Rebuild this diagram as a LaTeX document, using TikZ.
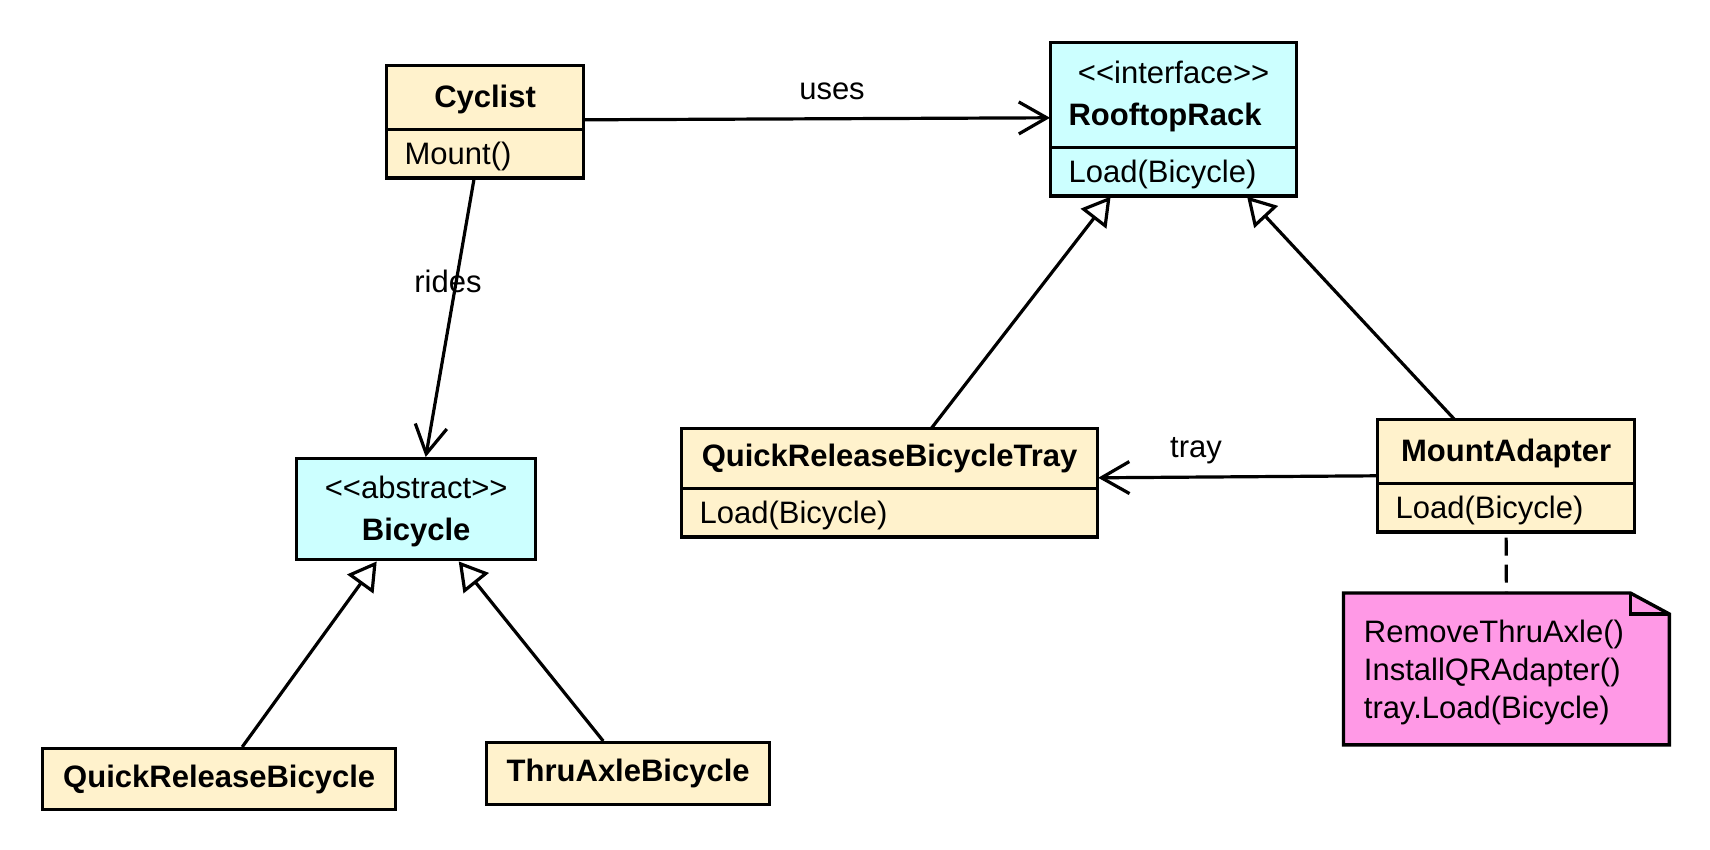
\documentclass[tikz,border=0pt]{standalone}
\usepackage{fontspec}
\setmainfont{Liberation Sans}
\usepackage{tikz}
\usetikzlibrary{arrows.meta}
\usetikzlibrary{calc}
\usetikzlibrary{shapes}
\usetikzlibrary{backgrounds}

\definecolor{classfill}{HTML}{FFF2CC}
\definecolor{ifacefill}{HTML}{CCFFFF}
\definecolor{notefill}{HTML}{FF99E6}

\newcommand{\clsname}[2][31.5pt]{\hspace*{\fill}\rule[-11pt]{0pt}{#1}\textbf{#2}\hspace*{\fill}\null}
\newcommand{\clsop}[1]{\rule[-6.5pt]{0pt}{23.5pt}#1}
\newcommand{\stereo}[1]{\rule{0pt}{20pt}\textless\kern0pt\textless#1\textgreater\kern0pt\textgreater}

\begin{document}
\begin{tikzpicture}[x=0.5pt, y=-0.5pt,
        class_style/.style={rectangle split, rectangle split parts=2, draw=black, line width=0.6pt,
            postaction={draw=black, line width=1.7pt}, fill=classfill, inner xsep=9pt, inner ysep=0pt,
            anchor=north west, align=left, font=\fontsize{15.5}{21}\selectfont},
        iface_style/.style={class_style, fill=ifacefill},
        leaf_style/.style={rectangle, draw=black, line width=1.7pt, fill=classfill, inner sep=0pt,
            anchor=north west, align=center, font=\fontsize{15.5}{21}\selectfont\bfseries},
        note_style/.style={rectangle, inner xsep=10pt, inner ysep=0pt, anchor=north west, align=left,
            text width=142.5pt, font=\fontsize{15.5}{19}\selectfont},
        label_style/.style={anchor=base, font=\fontsize{15.5}{19}\selectfont},
        edge_style/.style={draw=black, line width=1.6pt, -{Straight Barb[length=14pt,width=16pt]}},
        gen_style/.style={draw=black, line width=1.6pt, -{Triangle[open,fill=white,length=14pt,width=16pt]}},
        dash_style/.style={draw=black, line width=1.6pt, dash pattern=on 9pt off 4.5pt, dash phase=11pt}]

        \useasboundingbox (0,0) rectangle (1710,850);

        \node [class_style,text width=80.5pt](cyclist) at (386,65) {\clsname{Cyclist}
            \nodepart{two}\clsop{Mount()}};

        \node [iface_style,text width=105pt](rack) at (1050,42) {\centering\stereo{interface}\\
            \rule[-11pt]{0pt}{11pt}\textbf{RooftopRack}
            \nodepart{two}\clsop{Load(Bicycle)}};

        \node [leaf_style,fill=ifacefill,text width=119.5pt,font=\fontsize{15.5}{21}\selectfont](bicycle) at (295,457)
            {\stereo{abstract}\\\rule[-9.5pt]{0pt}{9.5pt}\textbf{Bicycle}};

        \node [leaf_style,minimum width=176.5pt,minimum height=30.5pt](qrbike) at (41,747) {QuickReleaseBicycle};

        \node [leaf_style,minimum width=141.5pt,minimum height=31pt](thrubike) at (485,741) {ThruAxleBicycle};

        \node [class_style,text width=190pt](tray) at (681,428) {\clsname[29.5pt]{QuickReleaseBicycleTray}
            \nodepart{two}\clsop{Load(Bicycle)}};

        \node [class_style,text width=110.5pt](adapter) at (1377,419) {\clsname{MountAdapter}
            \nodepart{two}\clsop{Load(Bicycle)}};

        \node [note_style](note) at (1343.5,593) {\rule{0pt}{24.5pt}RemoveThruAxle()\\InstallQRAdapter()\\
            \rule[-13pt]{0pt}{13pt}tray.Load(Bicycle)};

        % note with folded corner
        \begin{scope}[on background layer]
        \draw [fill=notefill, line width=1.7pt] (note.north west) -- ([xshift=-19.5pt]note.north east)
            -- ([yshift=-10.5pt]note.north east) -- (note.south east) -- (note.south west) -- cycle;
        \draw [line width=1.7pt] ([xshift=-19.5pt]note.north east) |- ([yshift=-10.5pt]note.north east);
        \end{scope}

        \node [label_style](uses) at (832,100) {uses};

        \node [label_style](rides) at (448,293) {rides};

        \node [label_style](trayname) at (1196,458) {tray};

        \draw [edge_style] ([yshift=1pt]cyclist.east) -- ([yshift=0.75pt]rack.west);

        \draw [edge_style] ([xshift=-5.5pt]cyclist.south) -- ([xshift=4.75pt]bicycle.north);

        \draw [edge_style] (adapter.west) -- ([yshift=2.5pt]tray.east);

        \draw [gen_style] ([xshift=11.5pt]qrbike.north) -- ([xshift=-19.75pt]bicycle.south);

        \draw [gen_style] ([xshift=-12.5pt]thrubike.north) -- ([xshift=21.25pt]bicycle.south);

        \draw [gen_style] ([xshift=21pt]tray.north) -- ([xshift=-31.5pt]rack.south);

        \draw [gen_style] ([xshift=-26pt]adapter.north) -- ([xshift=36.75pt]rack.south);

        \draw [dash_style] (adapter.south) -- (note.north);

\end{tikzpicture}
\end{document}
